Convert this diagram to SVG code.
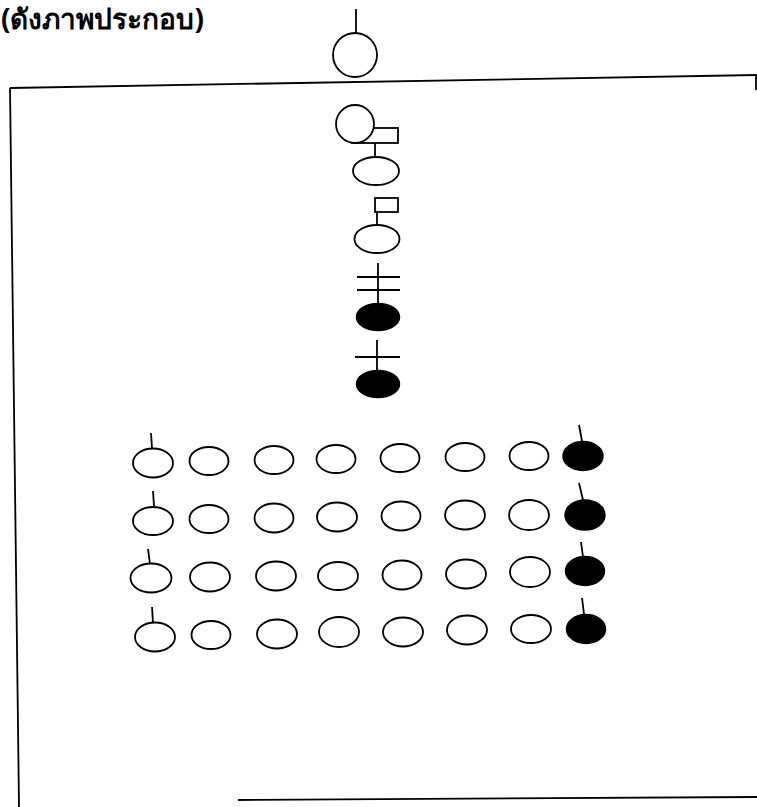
<svg xmlns="http://www.w3.org/2000/svg" width="757" height="807" viewBox="0 0 757 807">
<style>
.o{fill:#fff;stroke:#000;stroke-width:1.8}
.f{fill:#000;stroke:#000;stroke-width:1.5}
.l{stroke:#000;stroke-width:1.8;fill:none}
.t{font-family:"Noto Sans","DejaVu Sans",sans-serif;font-size:28px;font-weight:bold;fill:#000}
</style>
<rect width="757" height="807" fill="#fff"/>
<text class="t" x="1" y="29">(ดังภาพประกอบ)</text>
<g id="frame">
<path class="l" d="M10,88 L757,75"/>
<path class="l" d="M756,75 L756,90"/>
<path class="l" d="M10,88 L19,807"/>
<path class="l" d="M238,800 L757,797"/>
</g>
<g id="connectors">
<path class="l" d="M356,9 L356,34"/>
<path class="l" d="M375,143 L375,157"/>
<path class="l" d="M377,212 L377,225"/>
<path class="l" d="M378,263 L378,303 M357,277 L400,277 M357,290 L400,290"/>
<path class="l" d="M377,340 L377,371 M355,357 L400,357"/>
<path class="l" d="M151,433 L152,448 M153,491 L154,506 M148,549 L150,564 M152,607 L153,623"/>
<path class="l" d="M579,425 L582,441 M579,483 L583,500 M581,542 L583,557 M582,598 L584,614"/>
</g>
<g id="top-node"><circle class="o" cx="355" cy="55" r="22"/></g>
<g id="node-a">
<rect class="o" x="352" y="128" width="46" height="15"/>
<circle class="o" cx="355" cy="124" r="19"/>
</g>
<g id="node-b"><ellipse class="o" cx="376" cy="171" rx="23" ry="14"/></g>
<g id="node-c">
<rect class="o" x="375" y="198" width="23" height="14"/>
<ellipse class="o" cx="377" cy="239" rx="22.5" ry="14"/>
</g>
<g id="node-d"><ellipse class="f" cx="378" cy="317" rx="21.5" ry="13.5"/></g>
<g id="node-e"><ellipse class="f" cx="378" cy="384" rx="21.5" ry="13.5"/></g>
<g id="row1">
<ellipse class="o" cx="153" cy="463" rx="20" ry="14.5"/>
<ellipse class="o" cx="209" cy="461" rx="19.5" ry="14"/>
<ellipse class="o" cx="274" cy="460" rx="19.5" ry="14"/>
<ellipse class="o" cx="336" cy="459" rx="19.5" ry="14"/>
<ellipse class="o" cx="400" cy="458" rx="19.5" ry="14"/>
<ellipse class="o" cx="465" cy="457" rx="19.5" ry="14"/>
<ellipse class="o" cx="529" cy="456" rx="19.5" ry="14"/>
<ellipse class="f" cx="583" cy="456" rx="20" ry="14.5"/>
</g>
<g id="row2">
<ellipse class="o" cx="153" cy="521" rx="20" ry="14"/>
<ellipse class="o" cx="209" cy="519" rx="19.5" ry="14"/>
<ellipse class="o" cx="274" cy="518" rx="19.5" ry="14.5"/>
<ellipse class="o" cx="337" cy="517" rx="20" ry="14.5"/>
<ellipse class="o" cx="401" cy="516" rx="19.5" ry="14.5"/>
<ellipse class="o" cx="465" cy="515" rx="20" ry="14.5"/>
<ellipse class="o" cx="529" cy="515" rx="20" ry="15"/>
<ellipse class="f" cx="585" cy="515" rx="20" ry="15"/>
</g>
<g id="row3">
<ellipse class="o" cx="151" cy="578" rx="20.5" ry="14.5"/>
<ellipse class="o" cx="210" cy="577" rx="20" ry="14.5"/>
<ellipse class="o" cx="276" cy="576" rx="20" ry="14.5"/>
<ellipse class="o" cx="338" cy="576" rx="20" ry="14"/>
<ellipse class="o" cx="402" cy="575" rx="19.5" ry="14.5"/>
<ellipse class="o" cx="466" cy="574" rx="20" ry="14.5"/>
<ellipse class="o" cx="530" cy="572" rx="20" ry="15"/>
<ellipse class="f" cx="585" cy="571" rx="19.5" ry="14.5"/>
</g>
<g id="row4">
<ellipse class="o" cx="155" cy="637" rx="20" ry="14.5"/>
<ellipse class="o" cx="211" cy="635" rx="19.5" ry="14"/>
<ellipse class="o" cx="277" cy="634" rx="20" ry="14.5"/>
<ellipse class="o" cx="339" cy="632" rx="20" ry="15"/>
<ellipse class="o" cx="403" cy="632" rx="20" ry="14.5"/>
<ellipse class="o" cx="467" cy="630" rx="20" ry="14.5"/>
<ellipse class="o" cx="531" cy="629" rx="20" ry="14"/>
<ellipse class="f" cx="586" cy="629" rx="19.5" ry="14.5"/>
</g>
</svg>
